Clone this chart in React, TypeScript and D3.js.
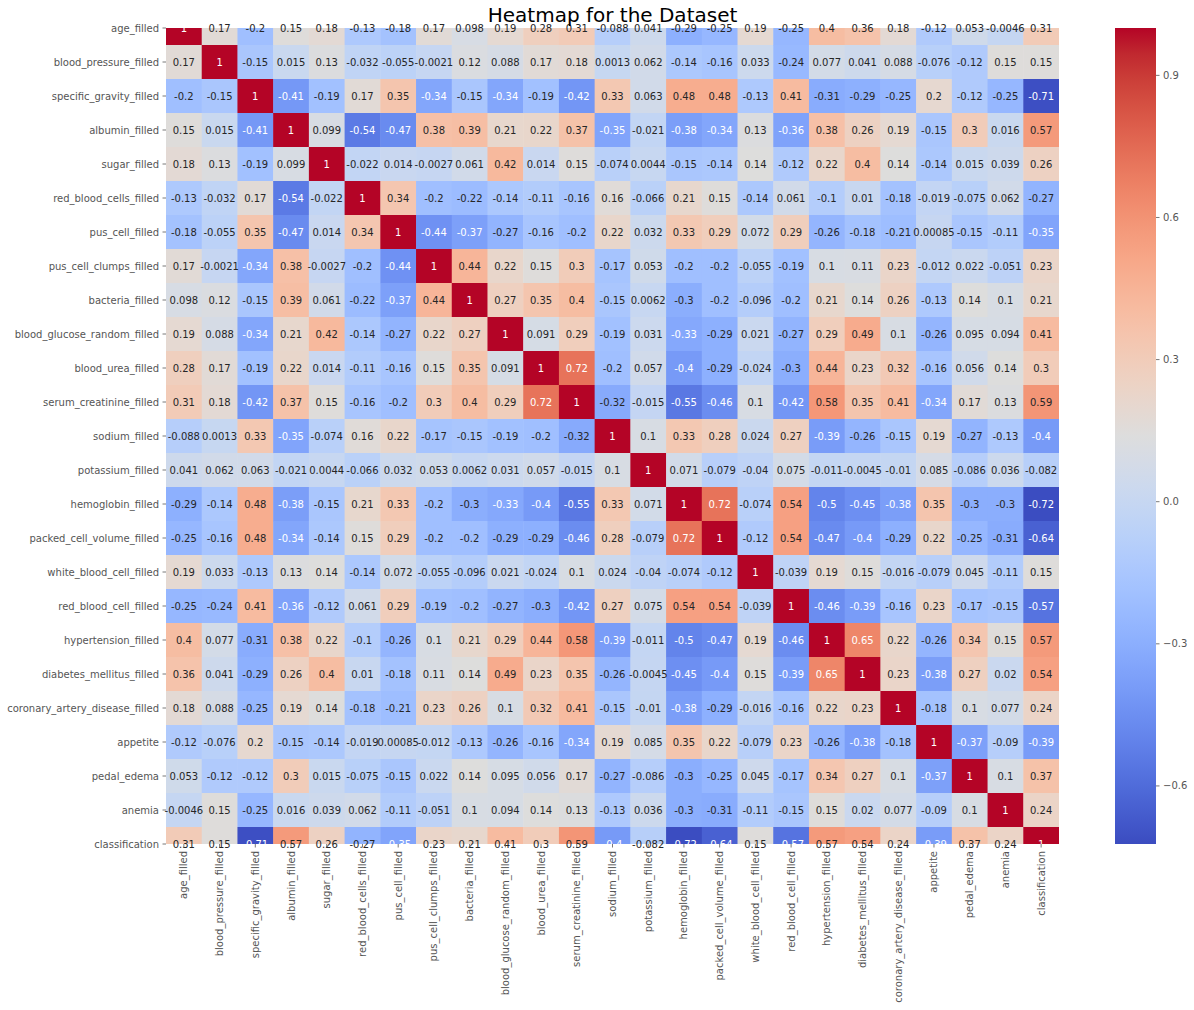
import React from "react";
import * as d3 from "d3";

const labels: string[] = [
  "age_filled", "blood_pressure_filled", "specific_gravity_filled", "albumin_filled", "sugar_filled",
  "red_blood_cells_filled", "pus_cell_filled", "pus_cell_clumps_filled", "bacteria_filled",
  "blood_glucose_random_filled", "blood_urea_filled", "serum_creatinine_filled", "sodium_filled",
  "potassium_filled", "hemoglobin_filled", "packed_cell_volume_filled", "white_blood_cell_filled",
  "red_blood_cell_filled", "hypertension_filled", "diabetes_mellitus_filled",
  "coronary_artery_disease_filled", "appetite", "pedal_edema", "anemia", "classification",
];

const corr: number[][] = [
  [1, 0.17, -0.2, 0.15, 0.18, -0.13, -0.18, 0.17, 0.098, 0.19, 0.28, 0.31, -0.088, 0.041, -0.29, -0.25, 0.19, -0.25, 0.4, 0.36, 0.18, -0.12, 0.053, -0.0046, 0.31],
  [0.17, 1, -0.15, 0.015, 0.13, -0.032, -0.055, -0.0021, 0.12, 0.088, 0.17, 0.18, 0.0013, 0.062, -0.14, -0.16, 0.033, -0.24, 0.077, 0.041, 0.088, -0.076, -0.12, 0.15, 0.15],
  [-0.2, -0.15, 1, -0.41, -0.19, 0.17, 0.35, -0.34, -0.15, -0.34, -0.19, -0.42, 0.33, 0.063, 0.48, 0.48, -0.13, 0.41, -0.31, -0.29, -0.25, 0.2, -0.12, -0.25, -0.71],
  [0.15, 0.015, -0.41, 1, 0.099, -0.54, -0.47, 0.38, 0.39, 0.21, 0.22, 0.37, -0.35, -0.021, -0.38, -0.34, 0.13, -0.36, 0.38, 0.26, 0.19, -0.15, 0.3, 0.016, 0.57],
  [0.18, 0.13, -0.19, 0.099, 1, -0.022, 0.014, -0.0027, 0.061, 0.42, 0.014, 0.15, -0.074, 0.0044, -0.15, -0.14, 0.14, -0.12, 0.22, 0.4, 0.14, -0.14, 0.015, 0.039, 0.26],
  [-0.13, -0.032, 0.17, -0.54, -0.022, 1, 0.34, -0.2, -0.22, -0.14, -0.11, -0.16, 0.16, -0.066, 0.21, 0.15, -0.14, 0.061, -0.1, 0.01, -0.18, -0.019, -0.075, 0.062, -0.27],
  [-0.18, -0.055, 0.35, -0.47, 0.014, 0.34, 1, -0.44, -0.37, -0.27, -0.16, -0.2, 0.22, 0.032, 0.33, 0.29, 0.072, 0.29, -0.26, -0.18, -0.21, 0.00085, -0.15, -0.11, -0.35],
  [0.17, -0.0021, -0.34, 0.38, -0.0027, -0.2, -0.44, 1, 0.44, 0.22, 0.15, 0.3, -0.17, 0.053, -0.2, -0.2, -0.055, -0.19, 0.1, 0.11, 0.23, -0.012, 0.022, -0.051, 0.23],
  [0.098, 0.12, -0.15, 0.39, 0.061, -0.22, -0.37, 0.44, 1, 0.27, 0.35, 0.4, -0.15, 0.0062, -0.3, -0.2, -0.096, -0.2, 0.21, 0.14, 0.26, -0.13, 0.14, 0.1, 0.21],
  [0.19, 0.088, -0.34, 0.21, 0.42, -0.14, -0.27, 0.22, 0.27, 1, 0.091, 0.29, -0.19, 0.031, -0.33, -0.29, 0.021, -0.27, 0.29, 0.49, 0.1, -0.26, 0.095, 0.094, 0.41],
  [0.28, 0.17, -0.19, 0.22, 0.014, -0.11, -0.16, 0.15, 0.35, 0.091, 1, 0.72, -0.2, 0.057, -0.4, -0.29, -0.024, -0.3, 0.44, 0.23, 0.32, -0.16, 0.056, 0.14, 0.3],
  [0.31, 0.18, -0.42, 0.37, 0.15, -0.16, -0.2, 0.3, 0.4, 0.29, 0.72, 1, -0.32, -0.015, -0.55, -0.46, 0.1, -0.42, 0.58, 0.35, 0.41, -0.34, 0.17, 0.13, 0.59],
  [-0.088, 0.0013, 0.33, -0.35, -0.074, 0.16, 0.22, -0.17, -0.15, -0.19, -0.2, -0.32, 1, 0.1, 0.33, 0.28, 0.024, 0.27, -0.39, -0.26, -0.15, 0.19, -0.27, -0.13, -0.4],
  [0.041, 0.062, 0.063, -0.021, 0.0044, -0.066, 0.032, 0.053, 0.0062, 0.031, 0.057, -0.015, 0.1, 1, 0.071, -0.079, -0.04, 0.075, -0.011, -0.0045, -0.01, 0.085, -0.086, 0.036, -0.082],
  [-0.29, -0.14, 0.48, -0.38, -0.15, 0.21, 0.33, -0.2, -0.3, -0.33, -0.4, -0.55, 0.33, 0.071, 1, 0.72, -0.074, 0.54, -0.5, -0.45, -0.38, 0.35, -0.3, -0.3, -0.72],
  [-0.25, -0.16, 0.48, -0.34, -0.14, 0.15, 0.29, -0.2, -0.2, -0.29, -0.29, -0.46, 0.28, -0.079, 0.72, 1, -0.12, 0.54, -0.47, -0.4, -0.29, 0.22, -0.25, -0.31, -0.64],
  [0.19, 0.033, -0.13, 0.13, 0.14, -0.14, 0.072, -0.055, -0.096, 0.021, -0.024, 0.1, 0.024, -0.04, -0.074, -0.12, 1, -0.039, 0.19, 0.15, -0.016, -0.079, 0.045, -0.11, 0.15],
  [-0.25, -0.24, 0.41, -0.36, -0.12, 0.061, 0.29, -0.19, -0.2, -0.27, -0.3, -0.42, 0.27, 0.075, 0.54, 0.54, -0.039, 1, -0.46, -0.39, -0.16, 0.23, -0.17, -0.15, -0.57],
  [0.4, 0.077, -0.31, 0.38, 0.22, -0.1, -0.26, 0.1, 0.21, 0.29, 0.44, 0.58, -0.39, -0.011, -0.5, -0.47, 0.19, -0.46, 1, 0.65, 0.22, -0.26, 0.34, 0.15, 0.57],
  [0.36, 0.041, -0.29, 0.26, 0.4, 0.01, -0.18, 0.11, 0.14, 0.49, 0.23, 0.35, -0.26, -0.0045, -0.45, -0.4, 0.15, -0.39, 0.65, 1, 0.23, -0.38, 0.27, 0.02, 0.54],
  [0.18, 0.088, -0.25, 0.19, 0.14, -0.18, -0.21, 0.23, 0.26, 0.1, 0.32, 0.41, -0.15, -0.01, -0.38, -0.29, -0.016, -0.16, 0.22, 0.23, 1, -0.18, 0.1, 0.077, 0.24],
  [-0.12, -0.076, 0.2, -0.15, -0.14, -0.019, 0.00085, -0.012, -0.13, -0.26, -0.16, -0.34, 0.19, 0.085, 0.35, 0.22, -0.079, 0.23, -0.26, -0.38, -0.18, 1, -0.37, -0.09, -0.39],
  [0.053, -0.12, -0.12, 0.3, 0.015, -0.075, -0.15, 0.022, 0.14, 0.095, 0.056, 0.17, -0.27, -0.086, -0.3, -0.25, 0.045, -0.17, 0.34, 0.27, 0.1, -0.37, 1, 0.1, 0.37],
  [-0.0046, 0.15, -0.25, 0.016, 0.039, 0.062, -0.11, -0.051, 0.1, 0.094, 0.14, 0.13, -0.13, 0.036, -0.3, -0.31, -0.11, -0.15, 0.15, 0.02, 0.077, -0.09, 0.1, 1, 0.24],
  [0.31, 0.15, -0.71, 0.57, 0.26, -0.27, -0.35, 0.23, 0.21, 0.41, 0.3, 0.59, -0.4, -0.082, -0.72, -0.64, 0.15, -0.57, 0.57, 0.54, 0.24, -0.39, 0.37, 0.24, 1],
];

const colorbarTicks: number[] = [-0.6, -0.3, 0.0, 0.3, 0.6, 0.9];

// matplotlib coolwarm colormap (33 control points)
const CW_R = [0.2298057, 0.26623388, 0.30386891, 0.342804478, 0.38301334, 0.424369608, 0.46666708, 0.509635204, 0.552953156, 0.596262162, 0.639176211, 0.681291281, 0.722193294, 0.761464949, 0.798691636, 0.833466556, 0.865395197, 0.897787179, 0.924127593, 0.944468518, 0.958852946, 0.96732803, 0.969954137, 0.966811177, 0.958003065, 0.943660866, 0.923944917, 0.89904617, 0.869186849, 0.834620542, 0.795631745, 0.752534934, 0.705673158];
const CW_G = [0.298717966, 0.353094838, 0.406535296, 0.458757618, 0.50941904, 0.558148092, 0.604562568, 0.648280772, 0.688929332, 0.726149107, 0.759599947, 0.788964712, 0.813952739, 0.834302879, 0.849786142, 0.860207984, 0.86541021, 0.848937047, 0.827384882, 0.800927443, 0.769767752, 0.734132809, 0.694266682, 0.650421156, 0.602842431, 0.551750968, 0.49730856, 0.439559467, 0.378313092, 0.312874446, 0.24128379, 0.157246067, 0.01555616];
const CW_B = [0.753683153, 0.801466763, 0.84495867, 0.883725899, 0.917387822, 0.945619588, 0.968154911, 0.98478814, 0.995375608, 0.999836203, 0.998151185, 0.990363227, 0.976574709, 0.956945269, 0.931688648, 0.901068838, 0.865395561, 0.820880546, 0.774508472, 0.726736146, 0.678007945, 0.628751763, 0.579375448, 0.530263762, 0.481775914, 0.434243684, 0.387970225, 0.343229596, 0.300267182, 0.259301199, 0.220525627, 0.184115123, 0.150232812];

function coolwarm(t: number): [number, number, number] {
  const tt = Math.max(0, Math.min(1, t)) * 32;
  const i = Math.min(31, Math.floor(tt));
  const f = tt - i;
  return [
    CW_R[i] + (CW_R[i + 1] - CW_R[i]) * f,
    CW_G[i] + (CW_G[i + 1] - CW_G[i]) * f,
    CW_B[i] + (CW_B[i + 1] - CW_B[i]) * f,
  ];
}
const toCss = (c: [number, number, number]) =>
  d3.rgb(c[0] * 255, c[1] * 255, c[2] * 255).formatHex();
function luminance(c: [number, number, number]) {
  const lin = c.map((v) => (v <= 0.03928 ? v / 12.92 : Math.pow((v + 0.055) / 1.055, 2.4)));
  return 0.2126 * lin[0] + 0.7152 * lin[1] + 0.0722 * lin[2];
}

const FONT = "'DejaVu Sans', sans-serif";

export default function App() {
  const W = 1194, H = 1010;
  const left = 166, right = 1059, top = 28, bottom = 844;
  const vmin = -0.7226, vmax = 1;
  const n = labels.length;

  const x = d3.scaleBand<string>().domain(labels).range([left, right]);
  const yc = d3.scaleLinear().domain([0, n - 1]).range([top, bottom]);
  const rowH = (bottom - top) / (n - 1);
  const norm = d3.scaleLinear().domain([vmin, vmax]).range([0, 1]);

  const cbX = 1115, cbW = 41;
  const cbY = d3.scaleLinear().domain([vmin, vmax]).range([bottom, top]);
  const stops = d3.range(0, 33).map((k) => k / 32);

  const fmt = (v: number) => String(v);

  return (
    <svg width={W} height={H} style={{ position: "absolute", left: 0, top: 0, background: "#fff" }} fontFamily={FONT}>
      <defs>
        <clipPath id="axclip">
          <rect x={left} y={top} width={right - left} height={bottom - top} />
        </clipPath>
        <linearGradient id="cbgrad" x1="0" y1="1" x2="0" y2="0">
          {stops.map((s) => (
            <stop key={s} offset={s} stopColor={toCss(coolwarm(s))} />
          ))}
        </linearGradient>
      </defs>
      <rect x={0} y={0} width={W} height={H} fill="#fff" />
      <g clipPath="url(#axclip)">
        {corr.map((row, i) =>
          row.map((v, j) => (
            <rect
              key={`${i}-${j}`}
              x={x(labels[j])!}
              y={yc(i) - rowH / 2}
              width={x.bandwidth() + 0.5}
              height={rowH + 0.5}
              fill={toCss(coolwarm(norm(v)))}
            />
          ))
        )}
      </g>
      {corr.map((row, i) =>
        row.map((v, j) => {
          const c = coolwarm(norm(v));
          return (
            <text
              key={`t${i}-${j}`}
              x={x(labels[j])! + x.bandwidth() / 2}
              y={yc(i)}
              textAnchor="middle"
              dominantBaseline="central"
              fontSize={10}
              fill={luminance(c) > 0.408 ? "#262626" : "#ffffff"}
            >
              {fmt(v)}
            </text>
          );
        })
      )}
      {/* y axis */}
      {labels.map((l, i) => (
        <g key={`y${l}`}>
          <line x1={left - 3.5} x2={left} y1={yc(i)} y2={yc(i)} stroke="#555555" strokeWidth={0.8} />
          <text x={left - 7} y={yc(i)} textAnchor="end" dominantBaseline="central" fontSize={10} fill="#555555">
            {l}
          </text>
        </g>
      ))}
      {/* x axis */}
      {labels.map((l) => {
        const cx = x(l)! + x.bandwidth() / 2;
        return (
          <g key={`x${l}`}>
            <line x1={cx} x2={cx} y1={bottom} y2={bottom + 3.5} stroke="#555555" strokeWidth={0.8} />
            <text
              transform={`translate(${cx},${bottom + 7}) rotate(-90)`}
              textAnchor="end"
              dominantBaseline="central"
              fontSize={10}
              fill="#555555"
            >
              {l}
            </text>
          </g>
        );
      })}
      {/* title */}
      <text x={(left + right) / 2} y={top - 6} textAnchor="middle" fontSize={20} fill="#000">
        Heatmap for the Dataset
      </text>
      {/* colorbar */}
      <rect x={cbX} y={top} width={cbW} height={bottom - top} fill="url(#cbgrad)" />
      {colorbarTicks.map((t) => (
        <g key={`cb${t}`}>
          <line x1={cbX + cbW} x2={cbX + cbW + 3.5} y1={cbY(t)} y2={cbY(t)} stroke="#555555" strokeWidth={0.8} />
          <text x={cbX + cbW + 7} y={cbY(t)} dominantBaseline="central" fontSize={10} fill="#555555">
            {t.toFixed(1).replace("-", "\u2212")}
          </text>
        </g>
      ))}
    </svg>
  );
}
